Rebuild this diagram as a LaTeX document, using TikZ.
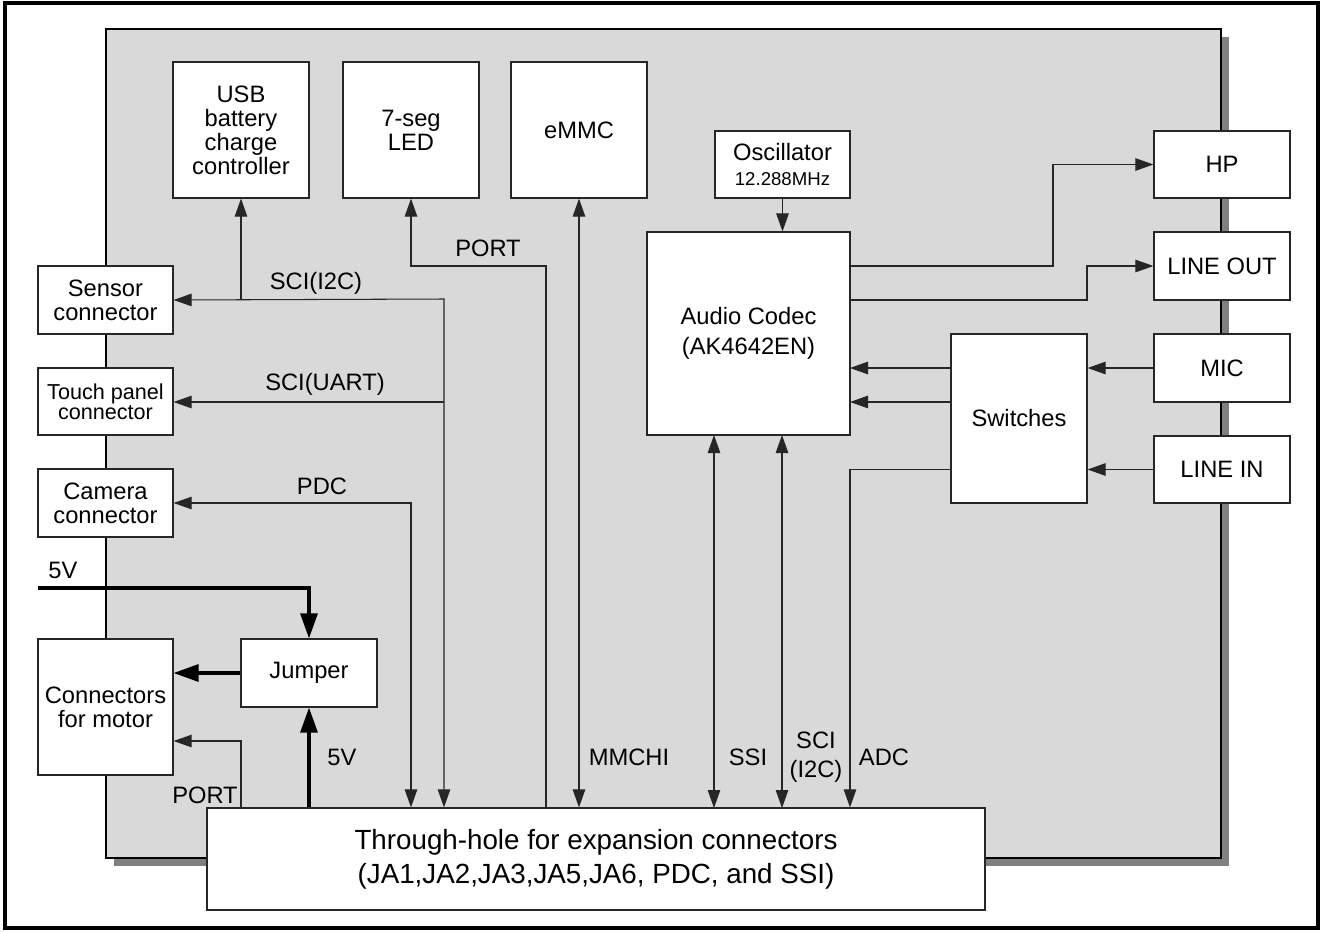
\documentclass[tikz,border=0pt]{standalone}
\usepackage{fontspec}
\setmainfont{Liberation Sans}
\usetikzlibrary{arrows.meta}
\begin{document}
\begin{tikzpicture}[x=0.02cm,y=-0.02cm,
  font=\fontsize{13.5}{13.7}\selectfont,
  box/.style={draw=black!85,line width=0.7pt,fill=white,inner sep=1pt,align=center},
  wire/.style={draw=black!85,line width=0.6pt},
  thickwire/.style={draw=black,line width=1.8pt},
  >={Triangle[length=0.36cm,width=0.25cm]},
  tk/.style={-{Triangle[length=0.5cm,width=0.34cm]}},
  lbl/.style={inner sep=0pt,align=center}]
\useasboundingbox (0,0) rectangle (1323,931);
\draw[line width=2pt] (5,3) rectangle (1318,928);
% board
\fill[black!50] (114,37) rectangle (1229,866);
\draw[fill=black!15,line width=0.9pt] (106,29) rectangle (1221,858);

% nodes
\node[box,minimum width=2.72cm,minimum height=2.72cm] (usb) at (241,130) {USB\\battery\\charge\\controller};
\node[box,minimum width=2.72cm,minimum height=2.72cm] (seg) at (411,130) {7-seg\\LED};
\node[box,minimum width=2.72cm,minimum height=2.72cm] (emmc) at (579,130) {eMMC};
\node[box,minimum width=2.7cm,minimum height=1.34cm] (osc) at (782.5,164.5) {Oscillator\\[1pt]{\fontsize{10.6}{11}\selectfont 12.288MHz}};
\node[box,minimum width=4.06cm,minimum height=4.06cm] (codec) at (748.5,333.5) {Audio Codec\\[3.5pt](AK4642EN)};
\node[box,minimum width=2.72cm,minimum height=1.34cm] (hp) at (1222,164.5) {HP};
\node[box,minimum width=2.72cm,minimum height=1.36cm] (lout) at (1222,266) {LINE OUT};
\node[box,minimum width=2.72cm,minimum height=1.36cm] (mic) at (1222,368) {MIC};
\node[box,minimum width=2.72cm,minimum height=1.34cm] (lin) at (1222,469.5) {LINE IN};
\node[box,minimum width=2.72cm,minimum height=3.38cm] (sw) at (1019,418.5) {Switches};
\node[box,minimum width=2.7cm,minimum height=1.36cm] (sens) at (105.5,300) {Sensor\\connector};
\node[box,minimum width=2.7cm,minimum height=1.34cm,font=\fontsize{12.3}{11.4}\selectfont] (touch) at (105.5,401.5) {Touch panel\\connector};
\node[box,minimum width=2.7cm,minimum height=1.36cm] (cam) at (105.5,503) {Camera\\connector};
\node[box,minimum width=2.7cm,minimum height=2.72cm] (motor) at (105.5,707) {Connectors\\for motor};
\node[box,minimum width=2.72cm,minimum height=1.36cm] (jmp) at (309,673) {Jumper};
\node[box,minimum width=15.56cm,minimum height=2.04cm,font=\fontsize{15.8}{19.3}\selectfont] (th) at (596,859) {Through-hole for expansion connectors\\(JA1,JA2,JA3,JA5,JA6, PDC, and SSI)};

% coordinates
\coordinate (sciA) at (444,299);
\coordinate (usbJ) at (241,299);
\coordinate (uartJ) at (444,402);
\coordinate (pdcC) at (411,503);
\coordinate (portA) at (546,266);
\coordinate (portB) at (411,266);
\coordinate (hpA) at (1053,266);
\coordinate (hpB) at (1053,164.5);
\coordinate (loA) at (1087,300);
\coordinate (loB) at (1087,266);
\coordinate (adcA) at (850,469.5);
\coordinate (v5a) at (38,588);
\coordinate (v5b) at (309,588);
\coordinate (pmA) at (241,741);

% connectors
\draw[wire,<->] (sens.east) -- (sciA) -- (sciA |- th.north);
\draw[wire,->] (usbJ) -- (usb.south);
\draw[wire,->] (uartJ) -- (touch.east |- uartJ);
\draw[wire,<->] (cam.east) -- (pdcC) -- (pdcC |- th.north);
\draw[wire,->] (portA |- th.north) -- (portA) -- (portB) -- (seg.south);
\draw[wire,<->] (emmc.south) -- (emmc.south |- th.north);
\draw[wire,<->] (714,435) -- (714,808);
\draw[wire,<->] (782,435) -- (782,808);
\draw[wire,->] (osc.south) -- (osc.south |- codec.north);
\draw[wire,->] (850,266) -- (hpA) -- (hpB) -- (hp.west);
\draw[wire,->] (loA -| codec.east) -- (loA) -- (loB) -- (lout.west);
\draw[wire,->] (951,368) -- (850,368);
\draw[wire,->] (951,402) -- (850,402);
\draw[wire,->] (mic.west) -- (sw.east |- mic.west);
\draw[wire,->] (lin.west) -- (sw.east |- lin.west);
\draw[wire,->] (sw.west |- adcA) -- (adcA) -- (adcA |- th.north);
\draw[thickwire,tk] (v5a) -- (v5b) -- (jmp.north);
\draw[thickwire,tk] (jmp.west) -- (motor.east |- jmp.west);
\draw[thickwire,tk] (jmp.south |- th.north) -- (jmp.south);
\draw[wire,->] (pmA |- th.north) -- (pmA) -- (motor.east |- pmA);

% labels
\node[lbl] (l1) at (316,283) {SCI(I2C)};
\node[lbl] (l2) at (325,384) {SCI(UART)};
\node[lbl] (l3) at (322,486) {PDC};
\node[lbl] (l4) at (488,248) {PORT};
\node[lbl] (l5) at (629,757) {MMCHI};
\node[lbl] (l6) at (748,757) {SSI};
\node[lbl] (l7) at (816,757) {SCI\\[3pt](I2C)};
\node[lbl] (l8) at (884,757) {ADC};
\node[lbl] (l9) at (63,570) {5V};
\node[lbl] (l10) at (342,757) {5V};
\node[lbl] (l11) at (205,795) {PORT};
\end{tikzpicture}
\end{document}
